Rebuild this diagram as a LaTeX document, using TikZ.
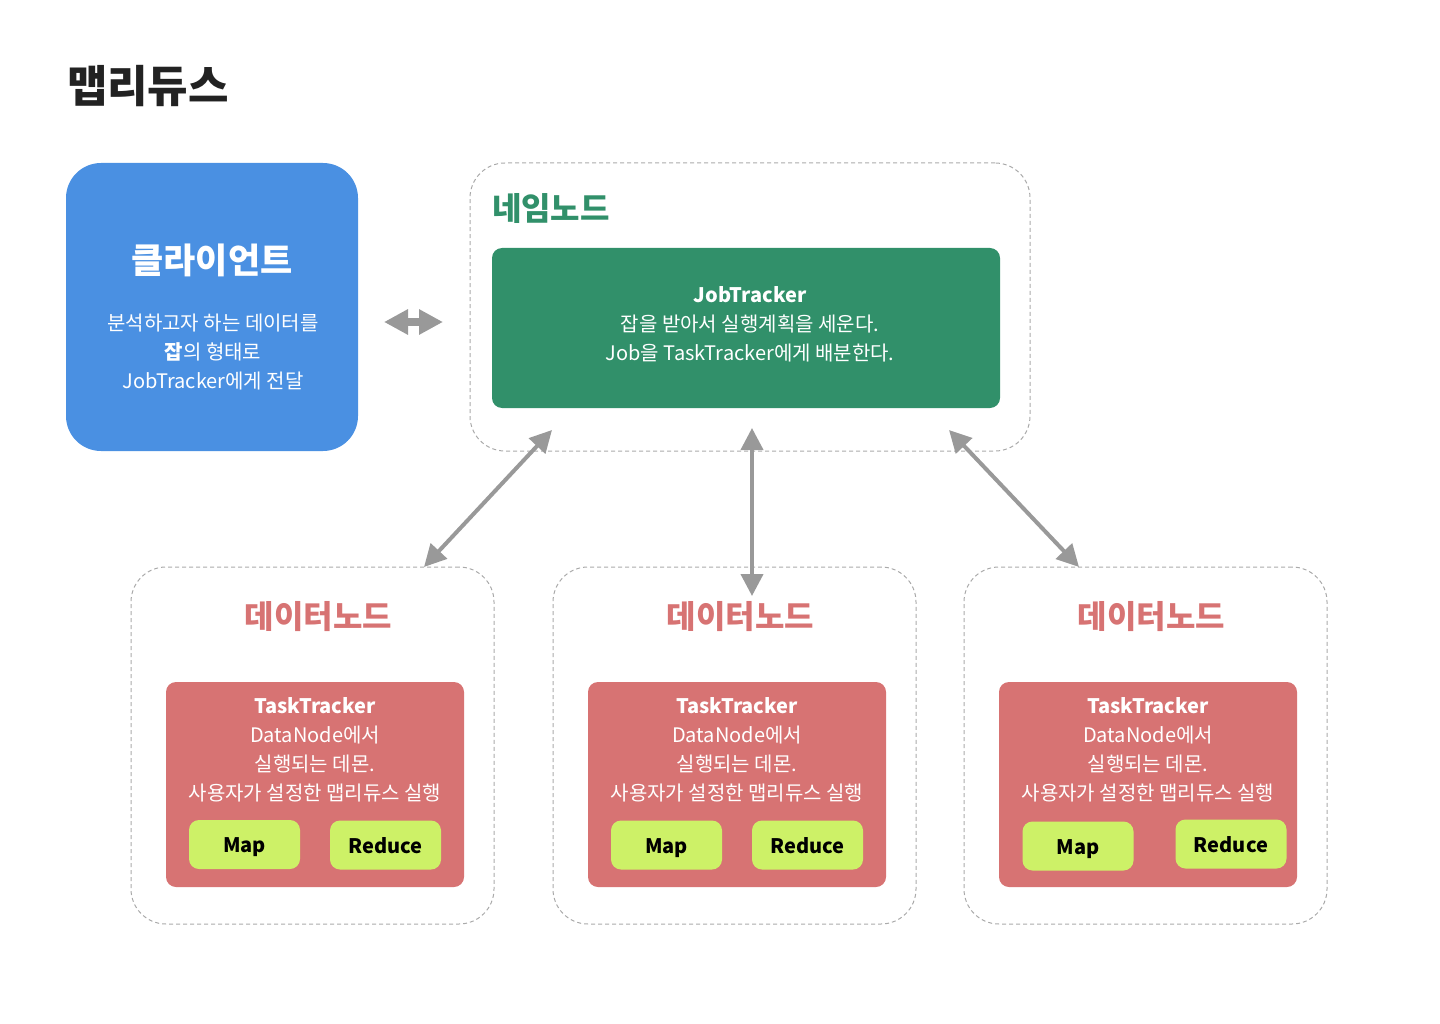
\documentclass[tikz,border=0pt]{standalone}
\usepackage{fontspec}
\setmainfont{Noto Sans CJK KR}
\usetikzlibrary{arrows.meta,positioning}

\definecolor{clientblue}{HTML}{4A90E2}
\definecolor{namegreen}{HTML}{31906A}
\definecolor{datared}{HTML}{D77373}
\definecolor{taskgreen}{HTML}{CDF167}
\definecolor{arrowgray}{HTML}{999999}
\definecolor{linegray}{HTML}{AAAAAA}
\definecolor{headblack}{HTML}{222222}

\begin{document}
\begin{tikzpicture}[x=1pt,y=1pt,
	every node/.style={inner sep=0pt,outer sep=0pt},
	nodebox/.style={draw=linegray,line width=1pt,dash pattern=on 4pt off 3pt,rounded corners=35pt},
	tracker/.style={rounded corners=10pt,minimum width=298pt,minimum height=205pt,fill=datared},
	body/.style={text=white,align=center,font=\fontsize{20}{29}\selectfont},
	taskbtn/.style={fill=taskgreen,rounded corners=10pt,minimum width=111pt,minimum height=49pt,
		text height=18pt,text depth=2pt,font=\fontsize{20}{24}\selectfont\bfseries},
	dntitle/.style={text=datared,font=\fontsize{32}{38}\selectfont\bfseries},
	link/.style={arrowgray,line width=4pt,{Triangle[length=22pt,width=22pt]}-{Triangle[length=22pt,width=22pt]}}]

\useasboundingbox (0,0) rectangle (1440,-1024);

% title
\node[anchor=west,text=headblack,font=\fontsize{44}{50}\selectfont\bfseries] (title) at (67,-86) {맵리듀스};

% client
\node[fill=clientblue,rounded corners=35pt,minimum width=292pt,minimum height=288pt] (cl) at (212,-307) {};
\node[text=white,font=\fontsize{35}{42}\selectfont\bfseries] (clname) at (212,-260) {클라이언트};
\node[body] (cltext) at (213,-352) {분석하고자 하는 데이터를\\{\bfseries 잡}의 형태로\\JobTracker에게 전달};

% namenode
\node[nodebox,minimum width=560pt,minimum height=288pt] (nn) at (750,-307) {};
\node[anchor=west,text=namegreen,font=\fontsize{32}{38}\selectfont\bfseries] (nnname) at (492,-209) {네임노드};
\node[fill=namegreen,rounded corners=10pt,minimum width=508pt,minimum height=160pt] (jt) at (746,-328) {};
\node[body] (jttext) at (750,-324) {{\bfseries JobTracker}\\잡을 받아서 실행계획을 세운다.\\Job을 TaskTracker에게 배분한다.};

\draw[arrowgray,line width=8pt,{Triangle[length=24pt,width=24pt]}-{Triangle[length=24pt,width=24pt]}]
	([xshift=26pt,yshift=-15pt]cl.east) -- ([xshift=-27pt,yshift=-15pt]nn.west);

% datanodes
\node[nodebox,minimum width=363pt,minimum height=357pt] (dn1) at (312.5,-745.5) {};
\node[dntitle] (dn1name) at (318.5,-617) {데이터노드};
\node[tracker] (tt1) at (315,-784.5) {};
\node[body] (tt1text) at (315,-750) {{\bfseries TaskTracker}\\DataNode에서\\실행되는 데몬.\\사용자가 설정한 맵리듀스 실행};
\node[taskbtn] (map1) at (244.5,-844.5) {Map};
\node[taskbtn] (red1) at (385.5,-845) {Reduce};

\node[nodebox,minimum width=363pt,minimum height=357pt] (dn2) at (734.5,-745.5) {};
\node[dntitle] (dn2name) at (740.5,-617) {데이터노드};
\node[tracker] (tt2) at (737,-784.5) {};
\node[body] (tt2text) at (737,-750) {{\bfseries TaskTracker}\\DataNode에서\\실행되는 데몬.\\사용자가 설정한 맵리듀스 실행};
\node[taskbtn] (map2) at (666.5,-845) {Map};
\node[taskbtn] (red2) at (807.5,-845) {Reduce};

\node[nodebox,minimum width=363pt,minimum height=357pt] (dn3) at (1145.5,-745.5) {};
\node[dntitle] (dn3name) at (1151.5,-617) {데이터노드};
\node[tracker] (tt3) at (1148,-784.5) {};
\node[body] (tt3text) at (1148,-750) {{\bfseries TaskTracker}\\DataNode에서\\실행되는 데몬.\\사용자가 설정한 맵리듀스 실행};
\node[taskbtn] (map3) at (1078,-846) {Map};
\node[taskbtn] (red3) at (1231,-844) {Reduce};

% links
\draw[link] ([xshift=82pt,yshift=21pt]nn.south west) -- ([xshift=-70pt]dn1.north east);
\draw[link] ([xshift=2pt,yshift=23pt]nn.south) -- ([xshift=17.5pt,yshift=-29pt]dn2.north);
\draw[link] ([xshift=-81pt,yshift=21pt]nn.south east) -- ([xshift=115pt]dn3.north west);
\end{tikzpicture}
\end{document}
